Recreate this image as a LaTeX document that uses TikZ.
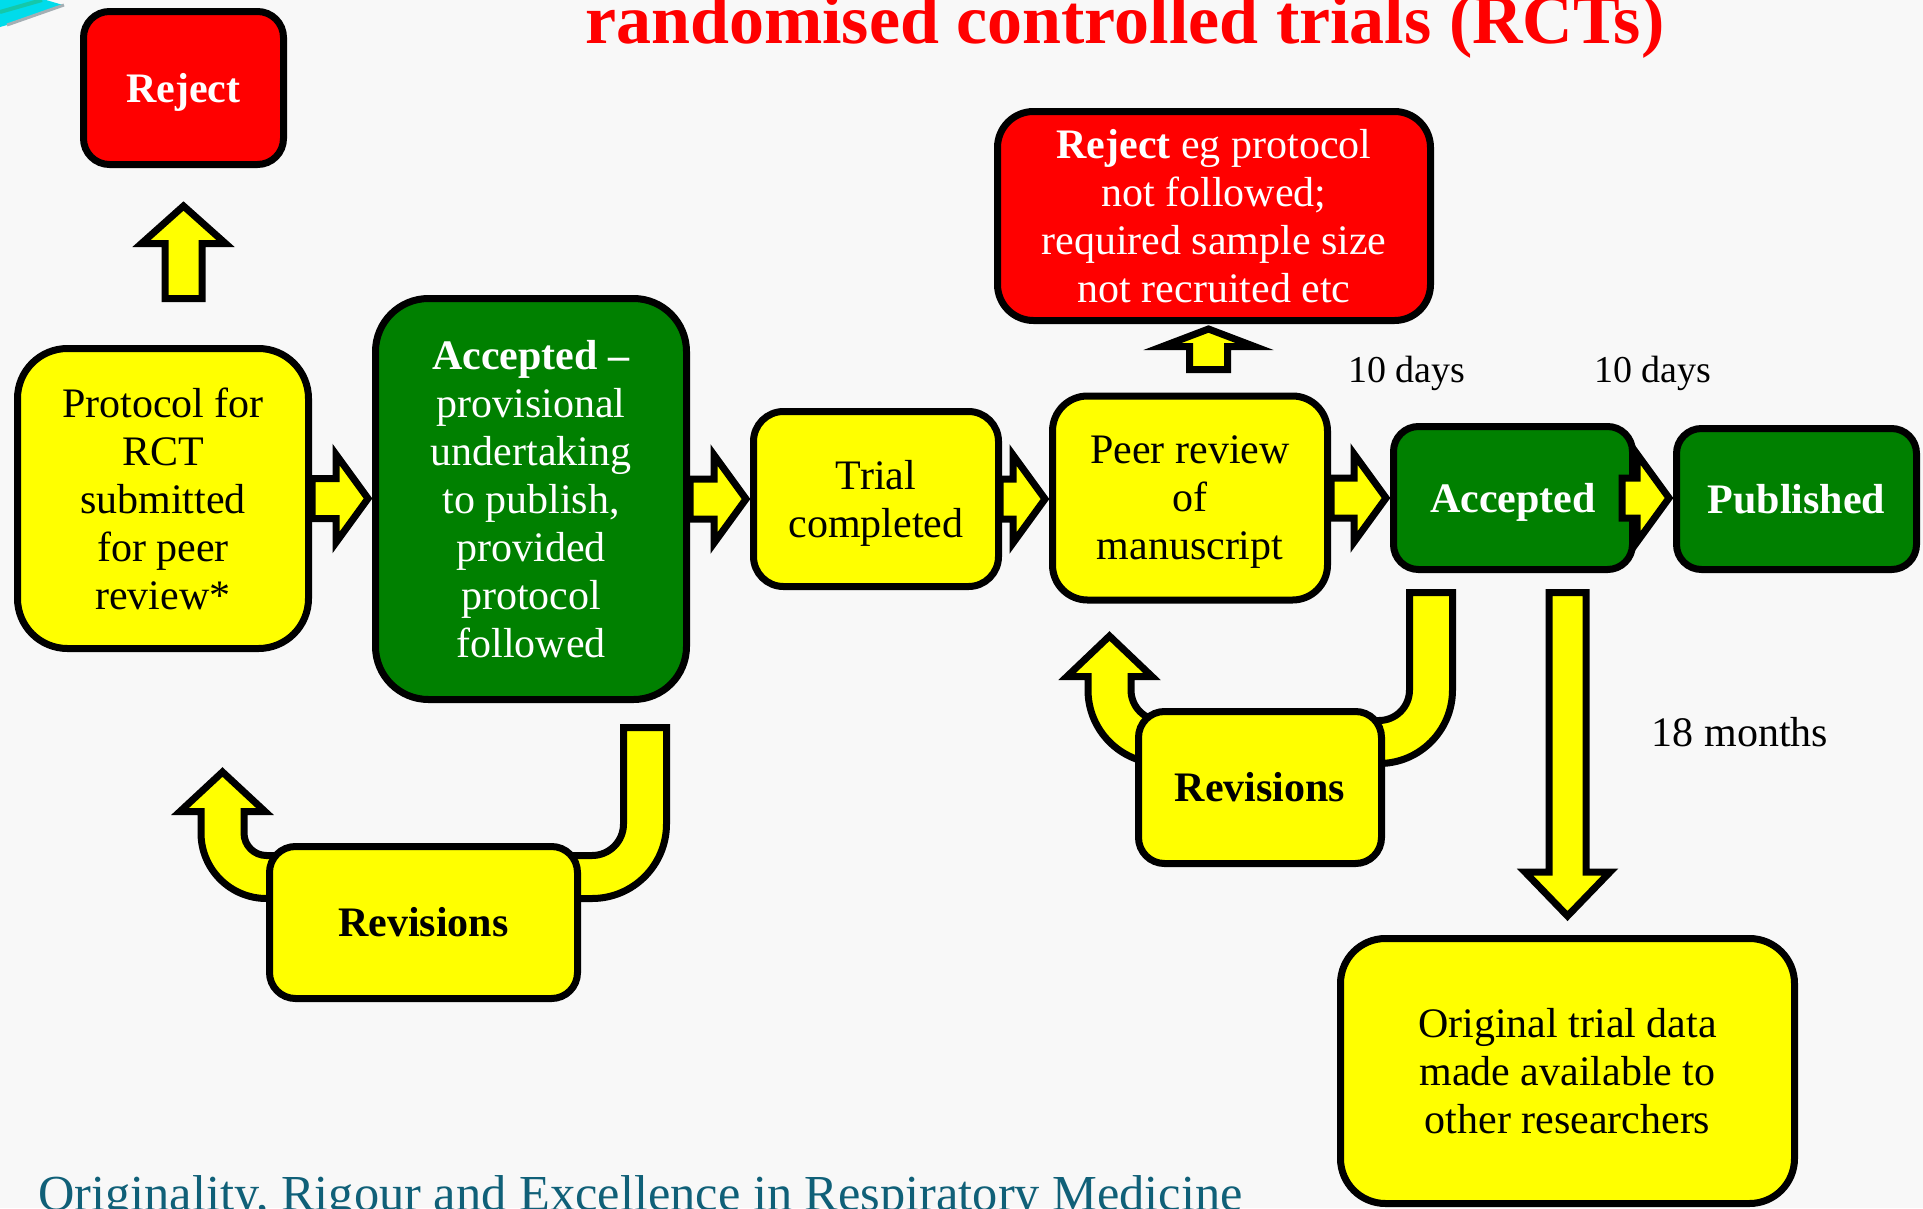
\documentclass[tikz,border=0pt]{standalone}
\usepackage{fontspec}
\setmainfont{Liberation Serif}
\usetikzlibrary{calc}
\definecolor{ppyellow}{RGB}{255,255,0}
\definecolor{ppgreen}{RGB}{0,128,0}
\definecolor{ppred}{RGB}{255,0,0}
\definecolor{footteal}{RGB}{16,96,120}
\definecolor{bggray}{RGB}{248,248,248}
\definecolor{swcyan}{RGB}{0,220,235}
\definecolor{swgreen}{RGB}{20,200,170}
\definecolor{swgray}{RGB}{165,175,180}
\pgfdeclarelayer{bg}
\pgfsetlayers{bg,main}
\newcommand\nodp[1]{\raisebox{0pt}[\height][0pt]{#1}}
\tikzset{
  box/.style={draw=black, line width=7pt, align=center, inner sep=0pt,
    font=\fontsize{42}{48}\selectfont},
  boldbox/.style={font=\bfseries\fontsize{42}{48}\selectfont},
  ybox/.style={box, fill=ppyellow, text=black},
  gbox/.style={box, fill=ppgreen, text=white},
  rbox/.style={box, fill=ppred, text=white},
  blk/.style={draw=black, line width=7pt, fill=ppyellow, line join=miter},
  lbl/.style={inner sep=0pt, anchor=base, font=\fontsize{38}{44}\selectfont},
}
\newcommand\rblock[3]{%
  \draw[blk] let \p1=(#1.east), \p2=(#2.west) in
    (\x1-#3,\y1-20) -- (\x2-36,\y1-20) -- (\x2-36,\y1-44) -- (\x2-4,\y1)
    -- (\x2-36,\y1+44) -- (\x2-36,\y1+20) -- (\x1-#3,\y1+20) -- cycle;}
\begin{document}
\begin{tikzpicture}[x=1pt,y=-1pt]
\clip (0,0) rectangle (1923,1208);
\begin{pgfonlayer}{bg}
\fill[bggray] (0,0) rectangle (1923,1208);
\end{pgfonlayer}
% corner swoosh
\fill[swcyan] (0,0) -- (46,0) -- (63,5) -- (7,25) -- (0,27) -- cycle;
\draw[swgreen, line width=4pt] (0,12) -- (42,0);
\draw[swgray, line width=3pt] (7,25) -- (64,5);

% title and footer
\node[anchor=base west, inner sep=0pt, text=ppred,
  font=\bfseries\fontsize{70}{80}\selectfont] (title) at (585,43)
  {randomised controlled trials (RCTs)};
\node[anchor=base west, inner sep=0pt, text=footteal,
  font=\fontsize{50.4}{56}\selectfont] (foot) at (38,1210)
  {Originality, Rigour and Excellence in Respiratory Medicine};

% boxes
\node[rbox, boldbox, text depth=0pt, minimum width=200, minimum height=153, rounded corners=26]
  (rej1) at (183.5,88) {Reject};
\node[ybox, minimum width=291, minimum height=300, rounded corners=50]
  (prot) at (163,498.5) {Protocol for\\RCT\\submitted\\for peer\\review*};
\node[gbox, minimum width=311, minimum height=401, rounded corners=53]
  (acc1) at (531,499) {\textbf{Accepted –}\\provisional\\undertaking\\to publish,\\provided\\protocol\\followed};
\node[ybox, minimum width=245, minimum height=175, rounded corners=30]
  (trial) at (876,499) {Trial\\\nodp{completed}};
\node[ybox, minimum width=275, minimum height=204, rounded corners=35]
  (peer) at (1190,498) {Peer review\\of\\\nodp{manuscript}};
\node[gbox, boldbox, text depth=0pt, minimum width=239, minimum height=143, rounded corners=25]
  (acc2) at (1513,498) {Accepted};
\node[gbox, boldbox, minimum width=240, minimum height=141, rounded corners=25]
  (pub) at (1796.5,499) {Published};
\node[rbox, minimum width=433, minimum height=209, rounded corners=36]
  (rej2) at (1214,216) {\textbf{Reject} eg protocol\\not followed;\\required sample size\\not recruited etc};
\node[ybox, minimum width=454, minimum height=265, rounded corners=45]
  (orig) at (1567.5,1071) {Original trial data\\made available to\\other researchers};
\node[ybox, boldbox, minimum width=308, minimum height=152, rounded corners=26]
  (rev1) at (423.5,922.5) {Revisions};
\node[ybox, boldbox, minimum width=243, minimum height=152, rounded corners=26]
  (rev2) at (1260,787.5) {Revisions};

% revision loops (behind the boxes)
\begin{pgfonlayer}{bg}
\draw[blk, shift={(rev1.east)}] (42.5,-195) -- (85.5,-195) -- (85.5,-98.5)
  arc[start angle=0, end angle=90, radius=74.5] -- (-30,-24) -- (-30,-67) -- (11,-67)
  arc[start angle=90, end angle=0, radius=31.5] -- cycle;
\draw[blk, shift={(rev1.west)}] (40,-24) -- (0.5,-24)
  arc[start angle=90, end angle=180, radius=65.5] -- (-65,-111) -- (-86,-111)
  -- (-43.5,-150.5) -- (-1,-111) -- (-22,-111) -- (-22,-89.5)
  arc[start angle=180, end angle=90, radius=22.5] -- (40,-67) -- cycle;
\draw[blk, shift={(rev2.east)}] (24.5,-195) -- (67.5,-195) -- (67.5,-97.5)
  arc[start angle=0, end angle=90, radius=73.5] -- (-40,-24) -- (-40,-67) -- (-6,-67)
  arc[start angle=90, end angle=0, radius=30.5] -- cycle;
\draw[blk, shift={(rev2.west)}] (60,-24) -- (26.5,-24)
  arc[start angle=90, end angle=180, radius=73.5] -- (-47,-111) -- (-68,-111)
  -- (-25.5,-151.5) -- (17,-111) -- (-4,-111) -- (-4,-97.5)
  arc[start angle=180, end angle=90, radius=30.5] -- (60,-67) -- cycle;
\end{pgfonlayer}

% block arrows between the boxes
\rblock{prot}{acc1}{0}
\rblock{acc1}{trial}{0}
\rblock{trial}{peer}{2}
\rblock{peer}{acc2}{0}
\rblock{acc2}{pub}{14}

% up arrow to Reject
\draw[blk] let \p1=(rej1.south) in
  (\x1-18.5,\y1-130.5) -- (\x1-18.5,\y1-75.5) -- (\x1-42,\y1-75.5) -- (\x1,\y1-38)
  -- (\x1+42,\y1-75.5) -- (\x1+18.5,\y1-75.5) -- (\x1+18.5,\y1-130.5) -- cycle;
% small up arrow to the second Reject
\draw[blk] let \p1=(rej2.south) in
  (\x1-5.5-19,\y1-45.5) -- (\x1-5.5-19,\y1-22.5) -- (\x1-5.5-46,\y1-22.5) -- (\x1-5.5,\y1-5)
  -- (\x1-5.5+46,\y1-22.5) -- (\x1-5.5+19,\y1-22.5) -- (\x1-5.5+19,\y1-45.5) -- cycle;
% down arrow to original data
\draw[blk] let \p1=(acc2.south), \p2=(orig.north) in
  (\x2-18.5,\y1-19.5) -- (\x2+18.5,\y1-19.5) -- (\x2+18.5,\y2+63) -- (\x2+42.5,\y2+63)
  -- (\x2,\y2+19) -- (\x2-42.5,\y2+63) -- (\x2-18.5,\y2+63) -- cycle;

% time labels
\node[lbl] (d1) at (1407,382) {10 days};
\node[lbl] (d2) at (1653,382) {10 days};
\node[lbl, font=\fontsize{42}{48}\selectfont] (m18) at (1740,746) {18 months};
\end{tikzpicture}
\end{document}
